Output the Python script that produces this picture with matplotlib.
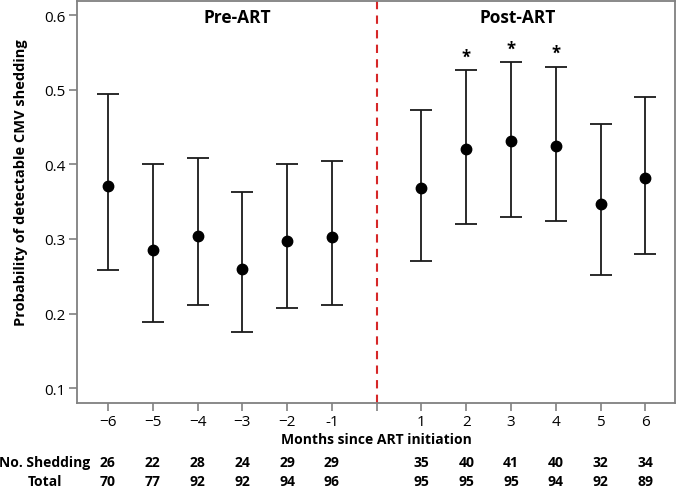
import numpy as np
from matplotlib import pyplot as plt
from matplotlib import transforms

plt.rcParams["font.family"] = ["Open Sans", "DejaVu Sans"]

# months since ART initiation
months = [-6, -5, -4, -3, -2, -1, 1, 2, 3, 4, 5, 6]
month_labels = ["\u22126", "\u22125", "\u22124", "\u22123", "\u22122", "-1", "1", "2", "3", "4", "5", "6"]
prob = [0.371, 0.285, 0.304, 0.260, 0.297, 0.302, 0.368, 0.421, 0.431, 0.425, 0.347, 0.382]
upper = [0.495, 0.400, 0.409, 0.363, 0.401, 0.404, 0.473, 0.526, 0.537, 0.531, 0.454, 0.491]
lower = [0.258, 0.188, 0.212, 0.175, 0.207, 0.212, 0.271, 0.320, 0.330, 0.324, 0.251, 0.280]
significant = [False] * 7 + [True, True, True] + [False, False]
n_shedding = [26, 22, 28, 24, 29, 29, 35, 40, 41, 40, 32, 34]
n_total = [70, 77, 92, 92, 94, 96, 95, 95, 95, 94, 92, 89]

# plotting positions: pre-ART months at 1..6, gap at 7, post-ART at 8..13
pos = np.array([m + 7 for m in months])
divider = 7

prob = np.array(prob)
yerr = np.vstack([prob - np.array(lower), np.array(upper) - prob])

fig = plt.figure(figsize=(6.78, 4.89), dpi=100)
ax = fig.add_axes([0.1136, 0.1738, 0.882, 0.822])

ax.errorbar(pos, prob, yerr=yerr, fmt="o", color="black", ecolor="#1a1a1a",
            markersize=7.5, elinewidth=1.3, capsize=8, capthick=1.3)
ax.axvline(divider, color="#d62728", linestyle=(0, (4, 3)), linewidth=1.5)

for p, u, s in zip(pos, upper, significant):
    if s:
        ax.text(p, u + 0.006, "*", ha="center", va="bottom", fontsize=12, fontweight="bold")

ax.text(3.88, 0.597, "Pre-ART", ha="center", va="center", fontsize=12.5, fontweight="bold")
ax.text(10.15, 0.597, "Post-ART", ha="center", va="center", fontsize=12.5, fontweight="bold")

ax.set_xlim(0.31, 13.66)
ax.set_ylim(0.08, 0.619)
ax.set_yticks([0.1, 0.2, 0.3, 0.4, 0.5, 0.6])
ax.set_yticklabels(["0.1", "0.2", "0.3", "0.4", "0.5", "0.6"])
ax.set_xticks(list(pos) + [divider])
ax.set_xticklabels(month_labels + [""])
ax.tick_params(axis="both", direction="out", length=6, width=1.2, color="#808080",
               labelsize=11, pad=2)

for sp in ax.spines.values():
    sp.set_color("#808080")
    sp.set_linewidth(1.3)

ax.set_ylabel("Probability of detectable CMV shedding", fontsize=10.5, fontweight="bold")
ax.yaxis.set_label_coords(-0.082, 0.55)
ax.set_xlabel("Months since ART initiation", fontsize=10, fontweight="bold", labelpad=2)

trans = transforms.blended_transform_factory(ax.transData, fig.transFigure)
for p, ns, nt in zip(pos, n_shedding, n_total):
    ax.text(p, 1 - 463 / 489, str(ns), transform=trans, ha="center", va="center",
            fontsize=10, fontweight="bold", clip_on=False)
    ax.text(p, 1 - 482 / 489, str(nt), transform=trans, ha="center", va="center",
            fontsize=10, fontweight="bold", clip_on=False)
fig.text(90 / 678, 1 - 463 / 489, "No. Shedding", ha="right", va="center", fontsize=10, fontweight="bold")
fig.text(45 / 678, 1 - 482 / 489, "Total", ha="center", va="center", fontsize=10, fontweight="bold")

fig.savefig("out.png", dpi=100)
